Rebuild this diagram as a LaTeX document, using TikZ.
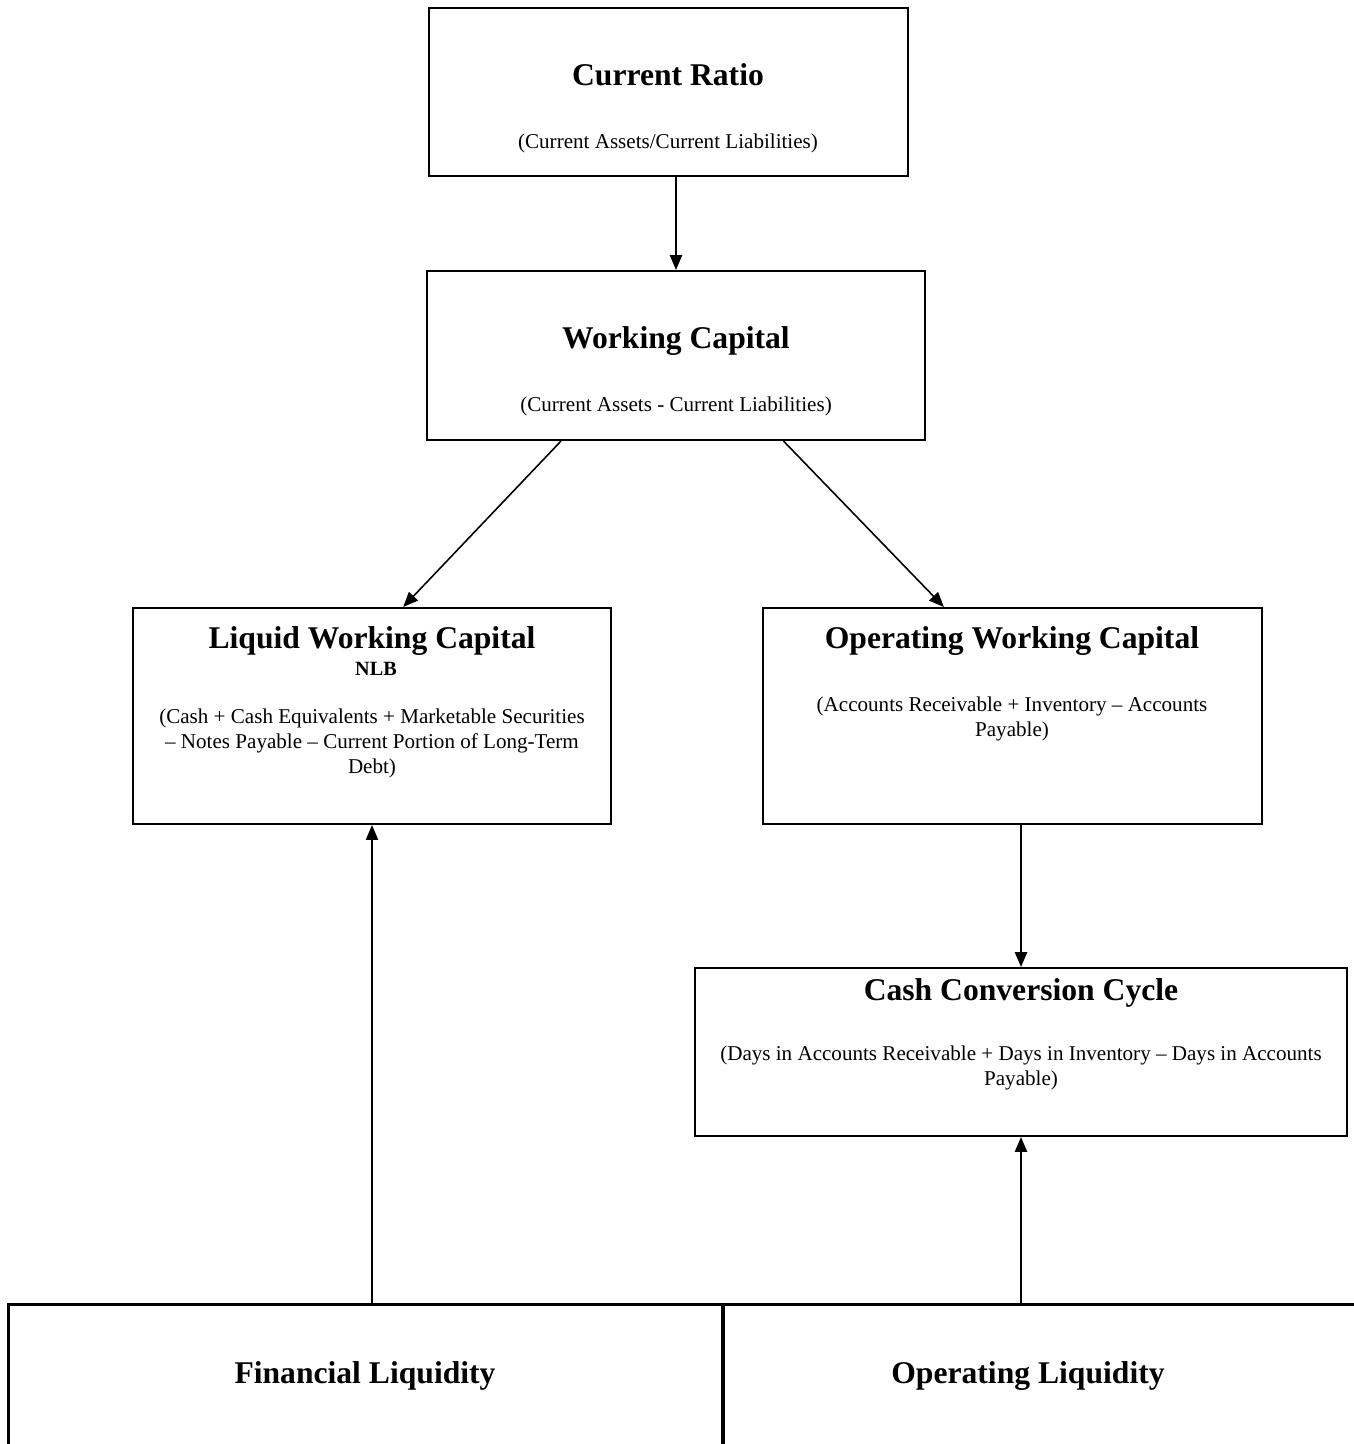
\documentclass[tikz,border=0pt]{standalone}
\usepackage{fontspec}
\setmainfont{Liberation Serif}
\usetikzlibrary{arrows.meta, calc}

\begin{document}
\begin{tikzpicture}[x=0.02cm, y=-0.02cm,
    box/.style={rectangle, draw, line width=1.2pt, inner sep=0pt},
    footbox/.style={rectangle, draw, line width=1.7pt, inner sep=0pt},
    heading/.style={font=\fontsize{18}{21}\selectfont\bfseries, inner sep=0pt, anchor=base},
    formula/.style={font=\fontsize{12}{14.2}\selectfont, inner sep=0pt, anchor=base, align=center},
    arr/.style={-{Triangle[length=8.5pt,width=7pt]}, line width=0.9pt}]
    \useasboundingbox (0,0) rectangle (1354,1444);

    % Current Ratio
    \node[box, minimum width=9.58cm, minimum height=3.36cm] (cr) at (668.5,92) {};
    \node[heading] at (668,85) {Current Ratio};
    \node[formula] at (668,148) {(Current Assets/Current Liabilities)};

    % Working Capital
    \node[box, minimum width=9.96cm, minimum height=3.38cm] (wc) at (676,355.5) {};
    \node[heading] at (676,348) {Working Capital};
    \node[formula] at (676,411) {(Current Assets - Current Liabilities)};

    % Liquid Working Capital
    \node[box, minimum width=9.56cm, minimum height=4.32cm] (lwc) at (372,716) {};
    \node[heading] at (372,648) {Liquid Working Capital};
    \node[font=\fontsize{11.5}{13}\selectfont\bfseries, inner sep=0pt, anchor=base] at (376,675) {NLB};
    % base of a multi-line text is its last line
    \node[formula] at (372,773) {(Cash + Cash Equivalents + Marketable Securities\\
        -- Notes Payable -- Current Portion of Long-Term\\ Debt)};

    % Operating Working Capital
    \node[box, minimum width=9.98cm, minimum height=4.32cm] (owc) at (1012.5,716) {};
    \node[heading] at (1012,648) {Operating Working Capital};
    \node[formula] at (1012,736) {(Accounts Receivable + Inventory -- Accounts\\ Payable)};

    % Cash Conversion Cycle
    \node[box, minimum width=13.04cm, minimum height=3.36cm] (ccc) at (1021,1052) {};
    \node[heading] at (1021,1000) {Cash Conversion Cycle};
    \node[formula] at (1021,1085) {(Days in Accounts Receivable + Days in Inventory -- Days in Accounts\\ Payable)};

    % Liquidity (bottom row)
    \node[footbox, minimum width=14.30cm, minimum height=3.92cm] (fin) at (365.5,1402) {};
    \node[footbox, minimum width=13.54cm, minimum height=3.92cm] (ops) at (1061.5,1402) {};
    \node[heading] at (365,1383) {Financial Liquidity};
    \node[heading] at (1028,1383) {Operating Liquidity};

    % Arrows
    \draw[arr] (cr.south -| wc.north) -- (wc.north);
    \draw[arr] ($(wc.south west)!0.27!(wc.south east)$) -- ($(lwc.north west)!0.565!(lwc.north east)$);
    \draw[arr] ($(wc.south west)!0.715!(wc.south east)$) -- ($(owc.north west)!0.363!(owc.north east)$);
    \draw[arr] (owc.south -| ccc.north) -- (ccc.north);
    \draw[arr] (lwc.south |- fin.north) -- (lwc.south);
    \draw[arr] (ccc.south |- ops.north) -- (ccc.south);
\end{tikzpicture}
\end{document}
